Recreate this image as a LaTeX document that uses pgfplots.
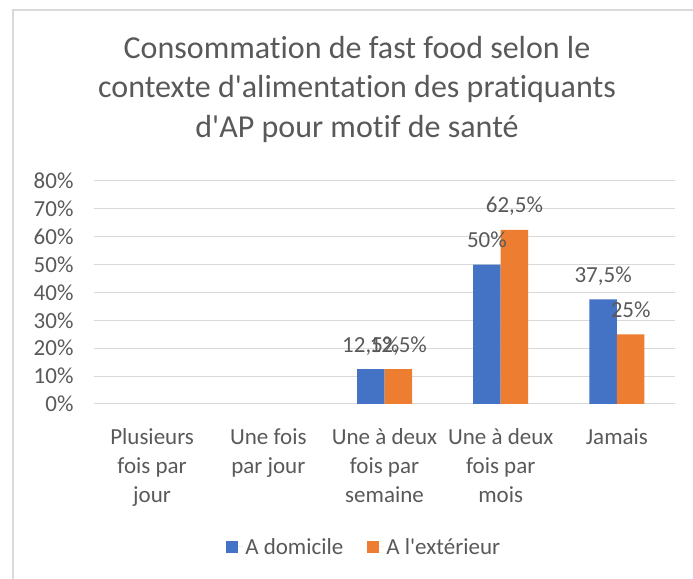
\documentclass[border=0pt]{standalone}
\usepackage{fontspec}
\setmainfont{Carlito}[Ligatures={TeXOff,NoCommon}]
\usepackage{pgfplots}
\pgfplotsset{compat=1.18}
\definecolor{cblue}{HTML}{4472C4}
\definecolor{corange}{HTML}{ED7D31}
\definecolor{ctext}{HTML}{595959}
\definecolor{cgrid}{HTML}{D9D9D9}
\begin{document}
\begin{tikzpicture}[x=1bp,y=1bp]
\useasboundingbox (0,0) rectangle (693,579);
\draw[cgrid, line width=1.2bp] (13,0) -- (13,569) -- (693,569);
\node[anchor=base, text=ctext, font=\fontsize{32bp}{39bp}\selectfont, inner sep=0] at (357,520) {Consommation de fast food selon le};
\node[anchor=base, text=ctext, font=\fontsize{32bp}{39bp}\selectfont, inner sep=0] at (357,481) {contexte d'alimentation des pratiquants};
\node[anchor=base, text=ctext, font=\fontsize{32bp}{39bp}\selectfont, inner sep=0] at (357,441) {d'AP pour motif de santé};
\begin{axis}[
  at={(94bp,175bp)}, anchor=south west,
  scale only axis, width=581bp, height=223bp,
  ybar=0pt, bar width=27.5bp,
  xmin=-0.5, xmax=4.5, ymin=0, ymax=80,
  xtick={0,1,2,3,4},
  xticklabels={{Plusieurs\\fois par\\jour},{Une fois\\par jour},{Une à deux\\fois par\\semaine},{Une à deux\\fois par\\mois},{Jamais}},
  ytick={0,10,20,30,40,50,60,70,80},
  yticklabel={\pgfmathprintnumber{\tick}\%},
  /pgf/number format/assume math mode=true,
  /pgf/number format/use comma,
  /pgf/number format/1000 sep={},
  ymajorgrids, grid style={cgrid, line width=1bp},
  axis line style={draw=none},
  major tick length=0pt,
  tick label style={text=ctext, font=\fontsize{23bp}{29bp}\selectfont},
  yticklabel style={xshift=-17bp},
  xticklabel style={align=center, inner sep=0pt, yshift=-24bp},
  nodes near coords={\pgfmathprintnumber{\pgfplotspointmeta}\%},
  every node near coord/.append style={anchor=base, yshift=17bp, inner sep=0pt, text=ctext, font=\fontsize{23bp}{29bp}\selectfont},
  legend columns=2,
  legend style={at={(0.465,-0.641)}, anchor=center, draw=none, fill=none,
    font=\fontsize{23bp}{29bp}\selectfont, text=ctext,
    /tikz/every even column/.append style={column sep=22bp}},
  legend image code/.code={\fill[#1] (0bp,-6bp) rectangle (12bp,6bp); \path (0bp,0bp) -- (17bp,0bp);},
]
\addplot[fill=cblue, draw=none] coordinates {(2,12.5) (3,50) (4,37.5)};
\addplot[fill=corange, draw=none] coordinates {(2,12.5) (3,62.5) (4,25)};
\legend{A domicile, A l'extérieur}
\end{axis}
\end{tikzpicture}
\end{document}
